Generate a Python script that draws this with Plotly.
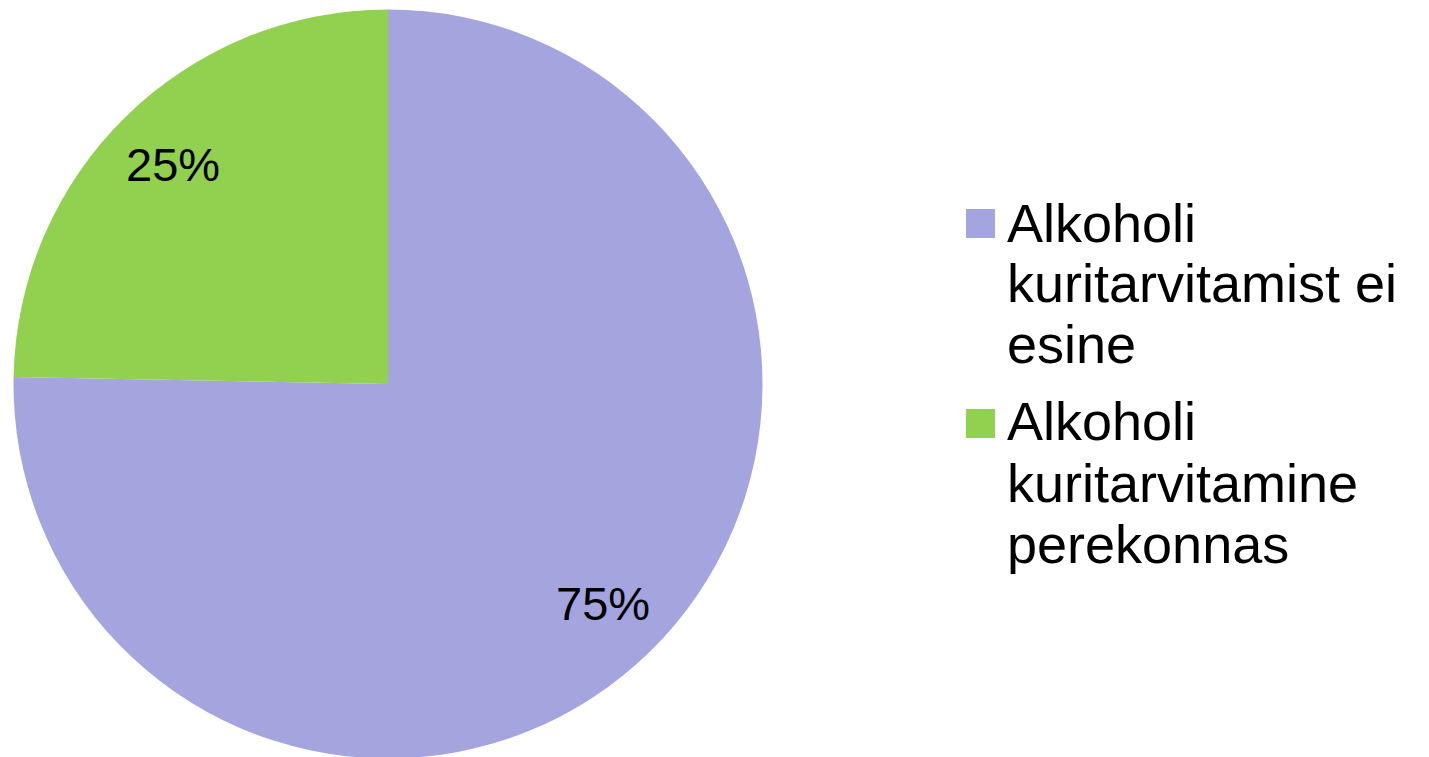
import math
import plotly.graph_objects as go

W, H = 1429, 757
OFF = 8  # page body margin offset in the browser

labels = ["Alkoholi kuritarvitamist ei esine", "Alkoholi kuritarvitamine perekonnas"]
values = [75.3, 24.7]
colors = ["#A4A4DF", "#92D050"]
legend_lines = [["Alkoholi", "kuritarvitamist ei", "esine"],
                ["Alkoholi", "kuritarvitamine", "perekonnas"]]

FONT = "Liberation Sans"


def px(x):
    return (x - OFF) / W


def py(y):
    return 1 - (y - OFF) / H


# pie geometry (in reference pixel coordinates)
CX, CY, R = 388, 384, 374.5

fig = go.Figure(go.Pie(
    labels=labels, values=values, sort=False, direction="clockwise", rotation=0,
    marker=dict(colors=colors, line=dict(width=0)),
    textinfo="none",
    domain=dict(x=[px(CX - R), px(CX + R)], y=[py(CY + R), py(CY - R)]),
    showlegend=False, hoverinfo="label+percent",
))

annotations = []
total = sum(values)
cum = 0.0
for v in values:
    frac = v / total
    mid = (cum + frac / 2) * 2 * math.pi
    cum += frac
    lx = CX + 0.82 * R * math.sin(mid)
    ly = CY - 0.82 * R * math.cos(mid)
    annotations.append(dict(text=f"{round(frac * 100)}%", xref="paper", yref="paper",
                            x=px(lx), y=py(ly), xanchor="center", yanchor="middle",
                            showarrow=False, font=dict(family=FONT, size=47, color="black")))

shapes = []
sq_tops = [209, 409]
baselines = [[242, 302, 363], [440, 502, 563]]
for i in range(2):
    t = sq_tops[i]
    shapes.append(dict(type="rect", xref="paper", yref="paper",
                       x0=px(966), x1=px(995), y0=py(t), y1=py(t + 29),
                       fillcolor=colors[i], line=dict(width=0)))
    for j, line in enumerate(legend_lines[i]):
        b = baselines[i][j]
        annotations.append(dict(text=line, xref="paper", yref="paper",
                                x=px(1005), y=py(b - 19), xanchor="left", yanchor="middle",
                                showarrow=False, font=dict(family=FONT, size=54, color="black")))

fig.update_layout(
    width=W, height=H, margin=dict(l=0, r=0, t=0, b=0),
    paper_bgcolor="white", plot_bgcolor="white",
    shapes=shapes, annotations=annotations,
)

fig.write_html("out.html")
